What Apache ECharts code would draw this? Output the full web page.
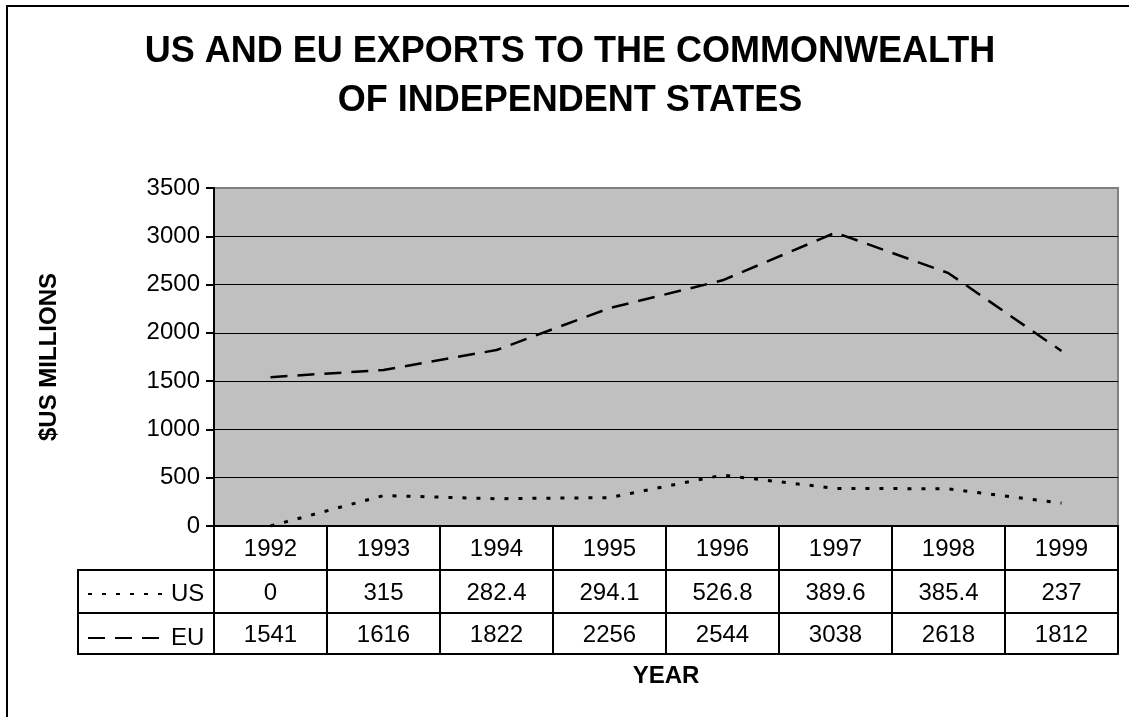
<!DOCTYPE html>
<html>
<head>
<meta charset="utf-8">
<style>
  html, body { margin: 0; padding: 0; background: #fff; }
  #chart { width: 1129px; height: 717px; }
</style>
<script src="https://cdn.jsdelivr.net/npm/echarts@6/dist/echarts.min.js"></script>
</head>
<body>
<div id="chart"></div>
<script>
// Export figures, $US millions
const years = ['1992', '1993', '1994', '1995', '1996', '1997', '1998', '1999'];
const usExports = [0, 315, 282.4, 294.1, 526.8, 389.6, 385.4, 237];
const euExports = [1541, 1616, 1822, 2256, 2544, 3038, 2618, 1812];
const seriesNames = ['US', 'EU'];
const yTicks = { min: 0, max: 3500, interval: 500 };

const FONT = '"Liberation Sans", Arial, Helvetica, sans-serif';
const LABEL_SIZE = 24;

// plot area box
const G = { left: 214, right: 11, top: 188, bottom: 191 };
const W = 1129, H = 717;
const plotBottom = H - G.bottom;       // 526
const rowH = [44, 43, 41];             // years row, US row, EU row
const tableLeft = 78;

const chart = echarts.init(document.getElementById('chart'), null, { renderer: 'canvas' });

function tableAxis(data, offset, tickLen, showLabel, margin) {
  return {
    type: 'category',
    data: data,
    position: 'bottom',
    offset: offset,
    boundaryGap: true,
    axisLine: { show: true, onZero: false, lineStyle: { color: '#000', width: 2 } },
    axisTick: { show: tickLen > 0, interval: 0, length: tickLen, inside: false,
                lineStyle: { color: '#000', width: 2 } },
    axisLabel: { show: showLabel, interval: 0, margin: margin, color: '#000',
                 fontSize: LABEL_SIZE, fontFamily: FONT },
    splitLine: { show: false }
  };
}

const xAxes = [
  tableAxis(years, 0, rowH[0], true, 11),
  tableAxis(usExports.map(String), rowH[0], rowH[1], true, 11),
  tableAxis(euExports.map(String), rowH[0] + rowH[1], rowH[2], true, 10),
  Object.assign(tableAxis(years, rowH[0] + rowH[1] + rowH[2], 0, false, 0), {
    name: 'YEAR',
    nameLocation: 'middle',
    nameGap: 10,
    nameTextStyle: { fontSize: 24, fontWeight: 'bold', color: '#000', fontFamily: FONT }
  })
];

const y1 = plotBottom + rowH[0];
const y2 = y1 + rowH[1];
const y3 = y2 + rowH[2];
const lineStyle = { stroke: '#000', lineWidth: 2 };

const option = {
  animation: false,
  backgroundColor: '#fff',
  title: {
    text: 'US AND EU EXPORTS TO THE COMMONWEALTH\nOF INDEPENDENT STATES',
    left: 570,
    top: 28,
    padding: 0,
    textAlign: 'center',
    textStyle: { fontSize: 36, fontWeight: 'bold', color: '#000', lineHeight: 49,
                 fontFamily: FONT }
  },
  legend: {
    data: seriesNames,
    orient: 'vertical',
    left: 82,
    top: 577,
    itemWidth: 78,
    itemHeight: 24,
    itemGap: 20,
    selectedMode: false,
    itemStyle: { color: 'rgba(0,0,0,0)', borderColor: 'rgba(0,0,0,0)', borderWidth: 0 },
    textStyle: { fontSize: LABEL_SIZE, lineHeight: 24, color: '#000', fontFamily: FONT }
  },
  grid: {
    left: G.left, right: G.right, top: G.top, bottom: G.bottom,
    show: true,
    backgroundColor: '#c0c0c0',
    borderColor: '#808080',
    borderWidth: 2
  },
  xAxis: xAxes,
  yAxis: {
    type: 'value',
    min: yTicks.min,
    max: yTicks.max,
    interval: yTicks.interval,
    name: '$US MILLIONS',
    nameLocation: 'middle',
    nameRotate: 90,
    nameGap: 153,
    nameTextStyle: { fontSize: 24, fontWeight: 'bold', color: '#000', fontFamily: FONT },
    axisLine: { show: true, lineStyle: { color: '#000', width: 2 } },
    axisTick: { show: true, length: 8, lineStyle: { color: '#000', width: 2 } },
    axisLabel: { margin: 14, color: '#000', fontSize: LABEL_SIZE, fontFamily: FONT,
                 formatter: function (v) { return String(v); } },
    splitLine: {
      show: true,
      lineStyle: { color: ['#000', '#000', '#000', '#000', '#000', '#000', '#000', '#808080'], width: 1 }
    }
  },
  series: [
    {
      name: seriesNames[0],
      type: 'line',
      xAxisIndex: 0,
      data: usExports,
      symbol: 'none',
      showSymbol: false,
      lineStyle: { color: '#000', width: 3, type: [4, 10] },
      itemStyle: { color: '#000' },
      z: 3
    },
    {
      name: seriesNames[1],
      type: 'line',
      xAxisIndex: 0,
      data: euExports,
      symbol: 'none',
      showSymbol: false,
      lineStyle: { color: '#000', width: 2.5, type: [17, 10] },
      itemStyle: { color: '#000' },
      z: 3
    }
  ],
  graphic: [
    // outer chart frame
    { type: 'rect', shape: { x: 7, y: 6, width: W + 20, height: H + 20 },
      style: { fill: null, stroke: '#000', lineWidth: 2 }, silent: true },
    // legend-key column of the data table
    { type: 'line', shape: { x1: tableLeft, y1: y1, x2: G.left, y2: y1 }, style: lineStyle, silent: true },
    { type: 'line', shape: { x1: tableLeft, y1: y2, x2: G.left, y2: y2 }, style: lineStyle, silent: true },
    { type: 'line', shape: { x1: tableLeft, y1: y3, x2: G.left, y2: y3 }, style: lineStyle, silent: true },
    { type: 'line', shape: { x1: tableLeft, y1: y1 - 1, x2: tableLeft, y2: y3 + 1 }, style: lineStyle, silent: true }
  ]
};

chart.setOption(option);
</script>
</body>
</html>
